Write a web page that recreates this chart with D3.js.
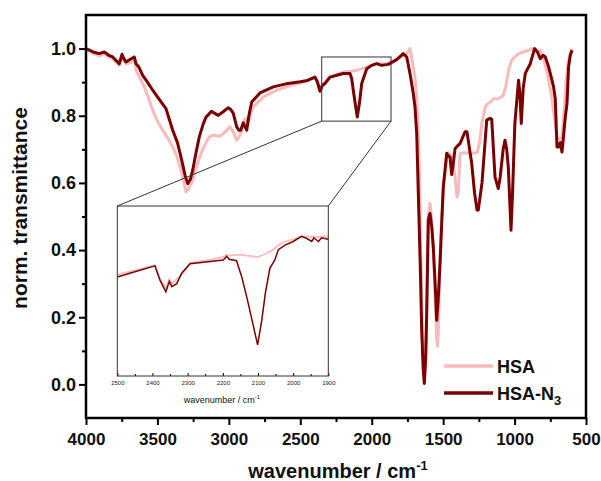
<!DOCTYPE html>
<html>
<head>
<meta charset="utf-8">
<script src="https://cdn.jsdelivr.net/npm/d3@7"></script>
<style>
  body { margin: 0; background: #fff; }
  svg { font-family: "Liberation Sans", Arial, sans-serif; }
</style>
</head>
<body>
<div id="chart"></div>
<script>
// FTIR spectra
var hsaWn = [4000, 3950, 3907, 3872, 3840, 3813, 3767, 3748, 3720, 3680, 3662, 3650, 3620, 3592, 3560, 3533, 3500, 3463, 3430, 3393, 3360, 3335, 3310, 3300, 3285, 3253, 3225, 3195, 3160, 3137, 3109, 3062, 3030, 2992, 2969, 2945, 2922, 2900, 2887, 2864, 2845, 2829, 2759, 2666, 2549, 2500, 2432, 2397, 2380, 2362, 2345, 2327, 2292, 2199, 2106, 2035, 1965, 1884, 1825, 1779, 1755, 1740, 1732, 1715, 1697, 1685, 1673, 1660, 1650, 1640, 1632, 1622, 1612, 1604, 1592, 1580, 1569, 1555, 1545, 1538, 1530, 1520, 1510, 1499, 1475, 1462, 1440, 1417, 1403, 1394, 1382, 1350, 1312, 1263, 1245, 1228, 1205, 1190, 1170, 1147, 1120, 1098, 1080, 1060, 1040, 1020, 1000, 970, 940, 900, 880, 860, 840, 820, 800, 773, 750, 740, 720, 703, 685, 668, 655, 640, 625, 610, 598];
var hsaT = [1.0, 0.985, 0.978, 0.985, 0.975, 0.97, 0.95, 0.975, 0.955, 0.96, 0.965, 0.935, 0.91, 0.886, 0.85, 0.816, 0.785, 0.757, 0.735, 0.707, 0.675, 0.638, 0.595, 0.573, 0.58, 0.608, 0.65, 0.688, 0.72, 0.737, 0.742, 0.739, 0.75, 0.767, 0.752, 0.727, 0.742, 0.77, 0.792, 0.777, 0.81, 0.826, 0.856, 0.876, 0.893, 0.897, 0.908, 0.915, 0.902, 0.878, 0.893, 0.9, 0.915, 0.93, 0.935, 0.945, 0.955, 0.955, 0.968, 0.98, 0.985, 0.995, 1.0, 0.96, 0.915, 0.85, 0.757, 0.5, 0.25, 0.08, 0.01, 0.1, 0.3, 0.5, 0.539, 0.49, 0.4, 0.25, 0.13, 0.114, 0.22, 0.38, 0.5, 0.58, 0.67, 0.69, 0.68, 0.62, 0.558, 0.57, 0.688, 0.69, 0.688, 0.69, 0.72, 0.78, 0.826, 0.835, 0.84, 0.851, 0.85, 0.855, 0.86, 0.89, 0.94, 0.965, 0.975, 0.985, 0.99, 0.995, 1.0, 0.997, 0.99, 0.995, 0.975, 0.93, 0.88, 0.856, 0.79, 0.735, 0.73, 0.737, 0.8, 0.9, 0.96, 0.985, 1.0];

var n3Wn = [4000, 3950, 3907, 3872, 3840, 3813, 3790, 3767, 3748, 3735, 3720, 3690, 3662, 3650, 3630, 3603, 3570, 3533, 3490, 3440, 3393, 3360, 3335, 3305, 3288, 3270, 3253, 3230, 3207, 3180, 3160, 3122, 3074, 3040, 3004, 2985, 2969, 2945, 2930, 2917, 2899, 2875, 2860, 2840, 2782, 2689, 2600, 2549, 2500, 2450, 2397, 2380, 2362, 2345, 2327, 2292, 2250, 2199, 2152, 2140, 2129, 2115, 2101, 2085, 2070, 2035, 2000, 1965, 1930, 1884, 1825, 1779, 1755, 1732, 1709, 1697, 1685, 1673, 1660, 1650, 1640, 1632, 1622, 1615, 1604, 1592, 1580, 1569, 1555, 1545, 1535, 1522, 1510, 1499, 1475, 1462, 1452, 1440, 1428, 1417, 1400, 1382, 1347, 1333, 1328, 1300, 1280, 1263, 1254, 1228, 1195, 1172, 1160, 1137, 1114, 1100, 1080, 1067, 1055, 1044, 1025, 1015, 998, 972, 962, 953, 940, 925, 890, 860, 840, 820, 800, 785, 765, 750, 727, 715, 703, 692, 680, 668, 655, 645, 633, 622, 610, 598];
var n3T = [1.0, 0.99, 0.985, 0.99, 0.98, 0.975, 0.965, 0.955, 0.983, 0.97, 0.96, 0.968, 0.975, 0.955, 0.945, 0.92, 0.9, 0.876, 0.85, 0.821, 0.757, 0.72, 0.677, 0.62, 0.598, 0.61, 0.638, 0.69, 0.737, 0.775, 0.796, 0.813, 0.801, 0.812, 0.824, 0.818, 0.807, 0.767, 0.757, 0.757, 0.779, 0.757, 0.8, 0.841, 0.868, 0.886, 0.895, 0.898, 0.901, 0.905, 0.915, 0.9, 0.873, 0.89, 0.896, 0.915, 0.92, 0.926, 0.926, 0.91, 0.876, 0.835, 0.796, 0.84, 0.896, 0.94, 0.95, 0.955, 0.95, 0.953, 0.967, 0.985, 0.975, 0.926, 0.866, 0.826, 0.747, 0.558, 0.35, 0.162, 0.05, 0.003, 0.08, 0.212, 0.489, 0.509, 0.47, 0.41, 0.29, 0.191, 0.25, 0.36, 0.48, 0.588, 0.688, 0.68, 0.677, 0.625, 0.66, 0.702, 0.71, 0.717, 0.752, 0.752, 0.737, 0.658, 0.57, 0.519, 0.519, 0.6, 0.787, 0.792, 0.79, 0.618, 0.583, 0.62, 0.7, 0.727, 0.7, 0.648, 0.459, 0.56, 0.777, 0.906, 0.86, 0.777, 0.88, 0.926, 0.955, 1.0, 0.99, 0.97, 0.98, 0.975, 0.95, 0.926, 0.886, 0.85, 0.707, 0.707, 0.72, 0.692, 0.75, 0.796, 0.836, 0.945, 0.98, 0.995];

// inset (2500-1900 cm-1)
var insetWn = [2500, 2450, 2393, 2379, 2362, 2352, 2345, 2331, 2317, 2293, 2236, 2199, 2189, 2182, 2161, 2146, 2132, 2118, 2101, 2089, 2079, 2066, 2052, 2042, 2023, 2000, 1976, 1961, 1947, 1941, 1928, 1919, 1900];
var insetN3 = [0.884, 0.891, 0.899, 0.88, 0.864, 0.878, 0.871, 0.875, 0.889, 0.902, 0.905, 0.907, 0.912, 0.908, 0.906, 0.884, 0.857, 0.828, 0.792, 0.826, 0.862, 0.896, 0.907, 0.921, 0.927, 0.932, 0.939, 0.936, 0.932, 0.937, 0.932, 0.937, 0.935];
var insetHSA = [0.887, 0.893, 0.9, 0.882, 0.869, 0.881, 0.875, 0.881, 0.887, 0.903, 0.907, 0.911, 0.914, 0.913, 0.914, 0.914, 0.913, 0.912, 0.911, 0.913, 0.915, 0.918, 0.923, 0.927, 0.932, 0.935, 0.939, 0.939, 0.938, 0.939, 0.938, 0.939, 0.939];

var xTicks = [4000, 3500, 3000, 2500, 2000, 1500, 1000, 500];
var yTicks = [0.0, 0.2, 0.4, 0.6, 0.8, 1.0];
var insetTicks = [2500, 2400, 2300, 2200, 2100, 2000, 1900];
var seriesNames = ["HSA", "HSA-N3"];
var colors = ["#f8baba", "#7c0000"];

var W = 601, H = 481;
var svg = d3.select("#chart").append("svg").attr("width", W).attr("height", H);

var x = d3.scaleLinear().domain([4000, 500]).range([86, 586]);
var y = d3.scaleLinear().domain([-0.1, 1.1]).range([418, 15]);

function pts(wn, t) {
  return wn.map(function (d, i) { return [d, t[i]]; });
}

var line = d3.line().x(function (d) { return x(d[0]); }).y(function (d) { return y(d[1]); });

svg.append("clipPath").attr("id", "clipMain")
  .append("rect").attr("x", 86).attr("y", 15).attr("width", 500).attr("height", 403);

var plot = svg.append("g").attr("clip-path", "url(#clipMain)");
plot.append("path").datum(pts(hsaWn, hsaT))
  .attr("d", line).attr("fill", "none").attr("stroke", colors[0])
  .attr("stroke-width", 3).attr("stroke-linejoin", "round");
plot.append("path").datum(pts(n3Wn, n3T))
  .attr("d", line).attr("fill", "none").attr("stroke", colors[1])
  .attr("stroke-width", 3).attr("stroke-linejoin", "round");

// axes
var xAxis = svg.append("g").attr("transform", "translate(0,418)")
  .call(d3.axisBottom(x).tickValues(xTicks).tickSize(7).tickPadding(8).tickFormat(d3.format("d")));
svg.append("g").attr("transform", "translate(0,418)")
  .call(d3.axisBottom(x).tickValues([3750, 3250, 2750, 2250, 1750, 1250, 750]).tickSize(4).tickFormat(""));
var yAxis = svg.append("g").attr("transform", "translate(86,0)")
  .call(d3.axisLeft(y).tickValues(yTicks).tickSize(7).tickPadding(3).tickFormat(d3.format(".1f")));
svg.append("g").attr("transform", "translate(86,0)")
  .call(d3.axisLeft(y).tickValues([0.1, 0.3, 0.5, 0.7, 0.9]).tickSize(4).tickFormat(""));

svg.selectAll(".domain").remove();
svg.selectAll(".tick line").attr("stroke", "#000").attr("stroke-width", 2);
svg.selectAll(".tick text").attr("font-size", 17).attr("font-weight", "bold").attr("fill", "#111");
yAxis.selectAll(".tick text").attr("font-size", 18);

svg.append("rect").attr("x", 86).attr("y", 15).attr("width", 500).attr("height", 403)
  .attr("fill", "none").attr("stroke", "#000").attr("stroke-width", 2.5);

// axis titles
var xt = svg.append("text").attr("x", 338).attr("y", 478).attr("text-anchor", "middle")
  .attr("font-size", 20).attr("font-weight", "bold").attr("fill", "#111");
xt.append("tspan").text("wavenumber / cm");
xt.append("tspan").attr("dy", -8).attr("font-size", 13).text("-1");

svg.append("text").attr("transform", "translate(27,208) rotate(-90)")
  .attr("text-anchor", "middle").attr("font-size", 21).attr("font-weight", "bold")
  .attr("fill", "#111").text("norm. transmittance");

// zoom box and connectors
var box = { x0: 2350, x1: 1865, y0: 0.784, y1: 0.975 };
var inset = { left: 117.3, right: 328.3, top: 206, bottom: 376 };

svg.append("rect").attr("x", x(box.x0)).attr("y", y(box.y1))
  .attr("width", x(box.x1) - x(box.x0)).attr("height", y(box.y0) - y(box.y1))
  .attr("fill", "none").attr("stroke", "#333").attr("stroke-width", 1);
svg.append("line").attr("x1", x(box.x0)).attr("y1", y(box.y0))
  .attr("x2", inset.left).attr("y2", inset.top).attr("stroke", "#333").attr("stroke-width", 1);
svg.append("line").attr("x1", x(box.x1)).attr("y1", y(box.y0))
  .attr("x2", inset.right).attr("y2", inset.top).attr("stroke", "#333").attr("stroke-width", 1);

// inset
var xi = d3.scaleLinear().domain([2500, 1900]).range([inset.left, inset.right]);
var yi = d3.scaleLinear().domain([0.75, 0.98]).range([inset.bottom, inset.top]);
var lineI = d3.line().x(function (d) { return xi(d[0]); }).y(function (d) { return yi(d[1]); });

svg.append("rect").attr("x", inset.left).attr("y", inset.top)
  .attr("width", inset.right - inset.left).attr("height", inset.bottom - inset.top)
  .attr("fill", "#fff");
var ig = svg.append("g");
ig.append("path").datum(pts(insetWn, insetHSA)).attr("d", lineI)
  .attr("fill", "none").attr("stroke", colors[0]).attr("stroke-width", 1.8);
ig.append("path").datum(pts(insetWn, insetN3)).attr("d", lineI)
  .attr("fill", "none").attr("stroke", colors[1]).attr("stroke-width", 1.5);

var ia = svg.append("g").attr("transform", "translate(0," + inset.bottom + ")")
  .call(d3.axisBottom(xi).tickValues(insetTicks).tickSize(-3).tickPadding(5).tickFormat(d3.format("d")));
svg.append("g").attr("transform", "translate(0," + inset.bottom + ")")
  .call(d3.axisBottom(xi).tickValues([2450, 2350, 2250, 2150, 2050, 1950]).tickSize(-2).tickFormat(""));
ia.selectAll(".tick text").attr("font-size", 6).attr("fill", "#222");
svg.selectAll(".domain").remove();

svg.append("rect").attr("x", inset.left).attr("y", inset.top)
  .attr("width", inset.right - inset.left).attr("height", inset.bottom - inset.top)
  .attr("fill", "none").attr("stroke", "#333").attr("stroke-width", 1);

var it = svg.append("text").attr("x", 222).attr("y", 403).attr("text-anchor", "middle")
  .attr("font-size", 9).attr("fill", "#111");
it.append("tspan").text("wavenumber / cm");
it.append("tspan").attr("dy", -4).attr("font-size", 6).text("-1");

// legend
var lg = svg.append("g");
seriesNames.forEach(function (name, i) {
  var ly = 366 + i * 27;
  lg.append("line").attr("x1", 444).attr("x2", 493).attr("y1", ly).attr("y2", ly)
    .attr("stroke", colors[i]).attr("stroke-width", 3.5);
  var t = lg.append("text").attr("x", 497).attr("y", ly + 7)
    .attr("font-size", 18).attr("font-weight", "bold").attr("fill", "#111");
  if (name === "HSA-N3") {
    t.append("tspan").text("HSA-N");
    t.append("tspan").attr("dy", 5).attr("font-size", 13).text("3");
  } else {
    t.text(name);
  }
});
</script>
</body>
</html>
